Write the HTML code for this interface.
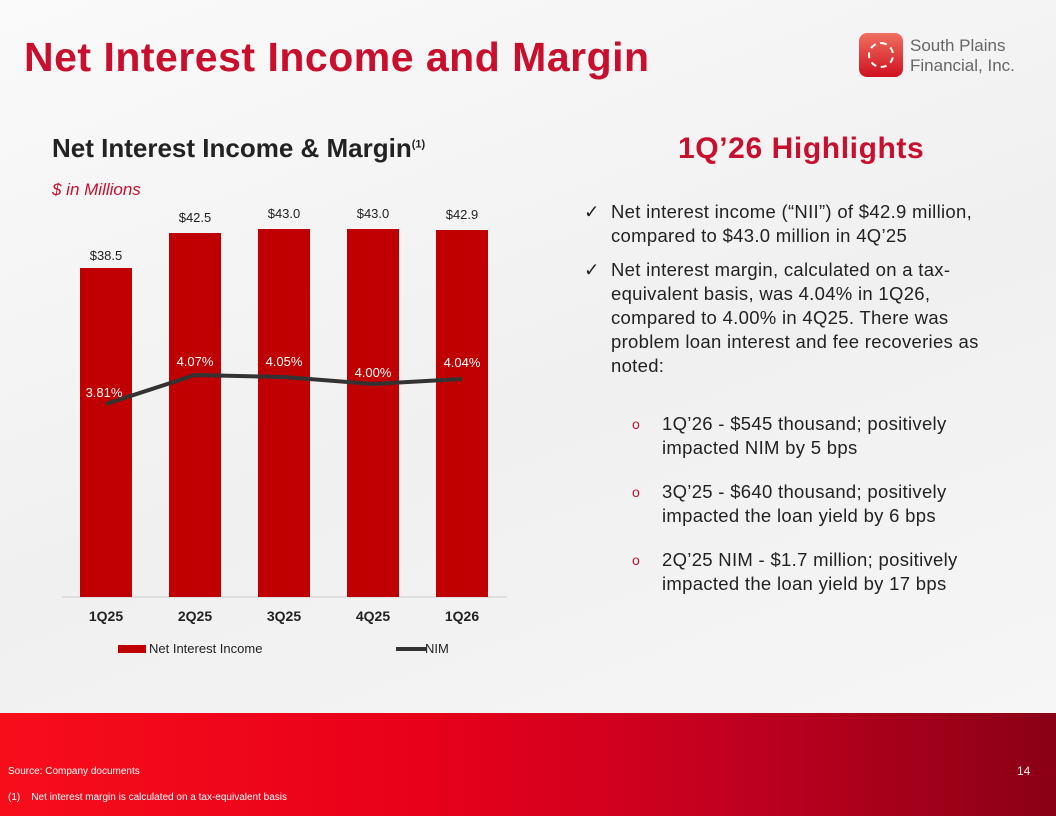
<!DOCTYPE html>
<html><head><meta charset="utf-8"><style>
body{margin:0;width:1056px;height:816px;position:relative;overflow:hidden;font-family:"Liberation Sans",sans-serif;background:linear-gradient(160deg,#fafafa 0%,#f0f0f0 50%,#f7f7f7 100%);}
.a{position:absolute;white-space:nowrap}
.foot{position:absolute;left:0;top:713px;width:1056px;height:103px;background:linear-gradient(90deg,#f70d1a 0%,#e8001a 40%,#c00020 70%,#8a0015 100%);}
.p{position:relative;white-space:nowrap}
</style></head><body>
<div class="a" style="left:24px;top:34px;font-size:41px;font-weight:bold;color:#c8102e;letter-spacing:0.5px">Net Interest Income and Margin</div>
<div class="a" style="left:859px;top:33px;width:44px;height:44px;border-radius:8px;background:linear-gradient(#f07060,#d01020)"></div>
<div class="a" style="left:868px;top:42px;width:26px;height:26px;border-radius:50%;border:2px dashed #fff;box-sizing:border-box"></div>
<div class="a" style="left:910px;top:36px;font-size:17px;line-height:20px;color:#666">South Plains<br>Financial, Inc.</div>
<div class="a" style="left:52px;top:133px;font-size:26px;font-weight:bold;color:#222">Net Interest Income &amp; Margin<sup style="font-size:11px">(1)</sup></div>
<div class="a" style="left:52px;top:180px;font-size:17px;font-style:italic;color:#c8102e">$ in Millions</div>
<svg class="a" style="left:0;top:0" width="540" height="680" font-family="Liberation Sans" font-size="13">
<line x1="62" y1="597" x2="507" y2="597" stroke="#ccc"/>
<g fill="#c00000">
<rect x="80" y="268" width="52" height="329"/><rect x="169" y="233" width="52" height="364"/><rect x="258" y="229" width="52" height="368"/><rect x="347" y="229" width="52" height="368"/><rect x="436" y="230" width="52" height="367"/></g>
<g fill="#222" text-anchor="middle"><text x="106" y="260">$38.5</text><text x="195" y="222">$42.5</text><text x="284" y="218">$43.0</text><text x="373" y="218">$43.0</text><text x="462" y="219">$42.9</text>
<g font-weight="bold" font-size="14"><text x="106" y="621">1Q25</text><text x="195" y="621">2Q25</text><text x="284" y="621">3Q25</text><text x="373" y="621">4Q25</text><text x="462" y="621">1Q26</text></g></g>
<polyline points="106,404 195,375 284,377 373,384 462,379" fill="none" stroke="#333" stroke-width="4"/>
<g fill="#fff" text-anchor="middle"><text x="104" y="397">3.81%</text><text x="195" y="366">4.07%</text><text x="284" y="366">4.05%</text><text x="373" y="377">4.00%</text><text x="462" y="367">4.04%</text></g>
<rect x="118" y="645" width="28" height="8" fill="#c00000"/><text x="149" y="653" fill="#222">Net Interest Income</text>
<line x1="396" y1="649" x2="426" y2="649" stroke="#333" stroke-width="4"/><text x="425" y="653" fill="#222">NIM</text>
</svg>
<div class="a" style="left:678px;top:132px;font-size:30px;font-weight:bold;color:#c8102e;letter-spacing:0.6px">1Q’26 Highlights</div>
<div class="a" style="left:584px;top:200px;font-size:18.5px;line-height:24px;color:#222;letter-spacing:0.3px">
<div class="p" style="padding-left:27px;margin-bottom:10px"><span style="position:absolute;left:0">✓</span>Net interest income (“NII”) of $42.9 million,<br>compared to $43.0 million in 4Q’25</div>
<div class="p" style="padding-left:27px;margin-bottom:34px"><span style="position:absolute;left:0">✓</span>Net interest margin, calculated on a tax-<br>equivalent basis, was 4.04% in 1Q26,<br>compared to 4.00% in 4Q25. There was<br>problem loan interest and fee recoveries as<br>noted:</div>
<div class="p" style="padding-left:78px;margin-bottom:20px"><span style="position:absolute;left:48px;color:#c8102e;font-size:14px">o</span>1Q’26 - $545 thousand; positively<br>impacted NIM by 5 bps</div>
<div class="p" style="padding-left:78px;margin-bottom:20px"><span style="position:absolute;left:48px;color:#c8102e;font-size:14px">o</span>3Q’25 - $640 thousand; positively<br>impacted the loan yield by 6 bps</div>
<div class="p" style="padding-left:78px"><span style="position:absolute;left:48px;color:#c8102e;font-size:14px">o</span>2Q’25 NIM - $1.7 million; positively<br>impacted the loan yield by 17 bps</div>
</div>
<div class="foot"></div>
<div class="a" style="left:8px;top:766px;font-size:10px;color:#fff">Source: Company documents</div>
<div class="a" style="left:8px;top:792px;font-size:10px;color:#fff">(1)&nbsp;&nbsp;&nbsp; Net interest margin is calculated on a tax-equivalent basis</div>
<div class="a" style="left:1017px;top:764px;font-size:12px;color:#eee">14</div>
</body></html>
